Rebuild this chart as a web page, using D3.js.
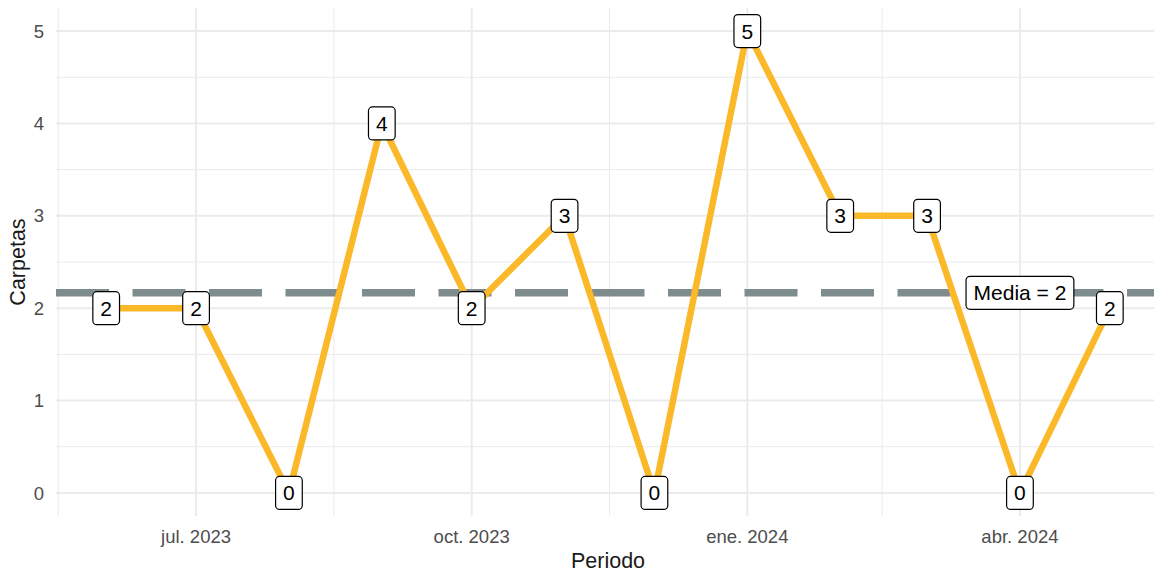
<!DOCTYPE html>
<html>
<head>
<meta charset="utf-8">
<script src="https://cdn.jsdelivr.net/npm/d3@7"></script>
<style>
  body { margin: 0; background: #fff; }
  svg { display: block; font-family: "Liberation Sans", Arial, sans-serif; }
</style>
</head>
<body>
<div id="chart"></div>
<script>
// monthly counts
var months = ["2023-06-01", "2023-07-01", "2023-08-01", "2023-09-01", "2023-10-01", "2023-11-01",
              "2023-12-01", "2024-01-01", "2024-02-01", "2024-03-01", "2024-04-01", "2024-05-01"];
var carpetas = [2, 2, 0, 4, 2, 3, 0, 5, 3, 3, 0, 2];

var xTicks = ["2023-07-01", "2023-10-01", "2024-01-01", "2024-04-01"];
var xTickLabels = ["jul. 2023", "oct. 2023", "ene. 2024", "abr. 2024"];
var xMinor = ["2023-05-16", "2023-08-16", "2023-11-16", "2024-02-15", "2024-05-16"];
var yTicks = [0, 1, 2, 3, 4, 5];
var yMinor = [0.5, 1.5, 2.5, 3.5, 4.5];

var meanLabel = "Media = 2";
var meanLabelAt = "2024-04-01";

var width = 1154, height = 575;
var parse = d3.timeParse("%Y-%m-%d");

var data = months.map(function(m, i) { return { date: parse(m), value: carpetas[i] }; });
var media = d3.mean(carpetas);

// panel limits with ggplot style 5% expansion
var dExt = d3.extent(data, function(d) { return d.date; });
var span = dExt[1] - dExt[0];
var x = d3.scaleTime()
    .domain([new Date(+dExt[0] - span * 0.05), new Date(+dExt[1] + span * 0.05)])
    .range([56, 1160]);

var y = d3.scaleLinear()
    .domain([-0.25, 5.25])
    .range([516, 8]);

var svg = d3.select("#chart").append("svg")
    .attr("width", width)
    .attr("height", height);

var grid = svg.append("g");

grid.selectAll(".ymin").data(yMinor).enter().append("line")
    .attr("x1", 56).attr("x2", width)
    .attr("y1", function(d) { return y(d); })
    .attr("y2", function(d) { return y(d); })
    .attr("stroke", "#ebebeb").attr("stroke-width", 1);

grid.selectAll(".xmin").data(xMinor).enter().append("line")
    .attr("x1", function(d) { return x(parse(d)); })
    .attr("x2", function(d) { return x(parse(d)); })
    .attr("y1", y(-0.25)).attr("y2", y(5.25))
    .attr("stroke", "#ebebeb").attr("stroke-width", 1);

grid.selectAll(".ymaj").data(yTicks).enter().append("line")
    .attr("x1", 56).attr("x2", width)
    .attr("y1", function(d) { return y(d); })
    .attr("y2", function(d) { return y(d); })
    .attr("stroke", "#ebebeb").attr("stroke-width", 2);

grid.selectAll(".xmaj").data(xTicks).enter().append("line")
    .attr("x1", function(d) { return x(parse(d)); })
    .attr("x2", function(d) { return x(parse(d)); })
    .attr("y1", y(-0.25)).attr("y2", y(5.25))
    .attr("stroke", "#ebebeb").attr("stroke-width", 2);

// axis text
svg.append("g").selectAll("text").data(yTicks).enter().append("text")
    .attr("x", 44)
    .attr("y", function(d) { return y(d); })
    .attr("dy", "0.36em")
    .attr("text-anchor", "end")
    .attr("font-size", 18.5)
    .attr("fill", "#4d4d4d")
    .text(function(d) { return d; });

svg.append("g").selectAll("text").data(xTicks).enter().append("text")
    .attr("x", function(d) { return x(parse(d)); })
    .attr("y", 543)
    .attr("text-anchor", "middle")
    .attr("font-size", 18.5)
    .attr("fill", "#4d4d4d")
    .text(function(d, i) { return xTickLabels[i]; });

svg.append("text")
    .attr("x", (56 + 1160) / 2)
    .attr("y", 568)
    .attr("text-anchor", "middle")
    .attr("font-size", 21.5)
    .attr("fill", "#1a1a1a")
    .text("Periodo");

svg.append("text")
    .attr("transform", "translate(25," + ((8 + 516) / 2) + ") rotate(-90)")
    .attr("text-anchor", "middle")
    .attr("font-size", 21.5)
    .attr("fill", "#1a1a1a")
    .text("Carpetas");

// mean line
svg.append("line")
    .attr("x1", 56).attr("x2", width)
    .attr("y1", y(media)).attr("y2", y(media))
    .attr("stroke", "#7f8c8d")
    .attr("stroke-width", 7.5)
    .attr("stroke-dasharray", "53,23.5");

// series line
var line = d3.line()
    .x(function(d) { return x(d.date); })
    .y(function(d) { return y(d.value); });

svg.append("path")
    .datum(data)
    .attr("d", line)
    .attr("fill", "none")
    .attr("stroke", "#fbb829")
    .attr("stroke-width", 6.5)
    .attr("stroke-linejoin", "round");

// labels
function addLabel(g, cx, cy, txt) {
    var lab = g.append("g").attr("transform", "translate(" + cx + "," + cy + ")");
    var rect = lab.append("rect");
    var t = lab.append("text")
        .attr("text-anchor", "middle")
        .attr("dy", "0.36em")
        .attr("font-size", 21)
        .attr("fill", "#000")
        .text(txt);
    var w = t.node().getComputedTextLength() + 15;
    var h = 33;
    rect.attr("x", -w / 2).attr("y", -h / 2)
        .attr("width", w).attr("height", h)
        .attr("rx", 4).attr("ry", 4)
        .attr("fill", "#fff")
        .attr("stroke", "#000")
        .attr("stroke-width", 1.2);
}

var labels = svg.append("g");
data.forEach(function(d) {
    addLabel(labels, x(d.date), y(d.value), String(d.value));
});

addLabel(svg, x(parse(meanLabelAt)), y(media), meanLabel);
</script>
</body>
</html>
